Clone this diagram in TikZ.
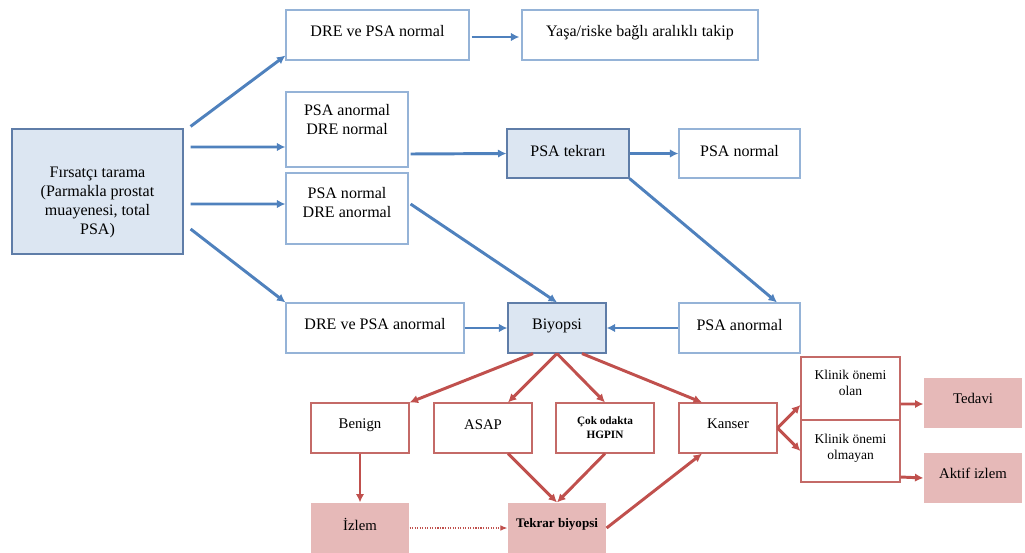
\documentclass[tikz,border=0pt]{standalone}
\usepackage{fontspec}
\setmainfont{Liberation Serif}
\usetikzlibrary{arrows.meta}
\definecolor{lineblue}{HTML}{4F81BD}
\definecolor{edgeblue}{HTML}{95B3D7}
\definecolor{fillblue}{HTML}{DCE6F2}
\definecolor{darkblue}{HTML}{5F7DA8}
\definecolor{linered}{HTML}{C0504D}
\definecolor{edgered}{HTML}{C46A67}
\definecolor{fillred}{HTML}{E6B9B8}
\tikzstyle{plain} = [rectangle, draw=edgeblue, line width=0.8pt, fill=white, align=center, inner sep=0pt, font=\fontsize{11.4}{13.5}\selectfont]
\tikzstyle{shaded} = [plain, draw=darkblue, fill=fillblue]
\tikzstyle{result} = [plain, draw=edgered, minimum width=2.45cm, minimum height=1.25cm, font=\fontsize{10.5}{12.5}\selectfont]
\tikzstyle{outcome} = [result, draw=none, fill=fillred]
\tikzstyle{arrow} = [line width=2.1pt, draw=lineblue, -{Latex[length=6pt,width=6pt]}]
\tikzstyle{redarrow} = [arrow, draw=linered, fill=linered]
\tikzstyle{dotarrow} = [line width=0.8pt, densely dotted, draw=linered, -{Latex[length=5pt,width=4pt]}]

\begin{document}
\begin{tikzpicture}[x=0.025cm, y=-0.025cm]
            \useasboundingbox (0,0) rectangle (1025,552);
            % screening
            \node [shaded, minimum width=4.275cm, minimum height=3.125cm, text height=63pt] at (97.5,191.5) (tarama) {F\i rsat\c{c}\i{} tarama\\(Parmakla prostat\\muayenesi, total\\PSA)};
            \node [plain, minimum width=4.575cm, minimum height=1.25cm, text depth=6pt] at (377.5,35) (ikinormal) {DRE ve PSA normal};
            \node [plain, minimum width=5.9cm, minimum height=1.25cm, text depth=5.5pt] at (640,35) (takip) {Ya\c{s}a/riske ba\u{g}l\i{} aral\i kl\i{} takip};
            \node [plain, minimum width=3.05cm, minimum height=1.875cm, text depth=14pt] at (347,129.5) (psaanormal) {PSA anormal\\DRE normal};
            \node [plain, minimum width=3.05cm, minimum height=1.775cm, text depth=8pt] at (347,208.5) (dreanormal) {PSA normal\\DRE anormal};
            \node [shaded, minimum width=3.05cm, minimum height=1.225cm, text depth=4.2pt] at (568,153.5) (tekrari) {PSA tekrar\i};
            \node [plain, minimum width=3.025cm, minimum height=1.225cm, text depth=4.2pt] at (739.5,153.5) (psanormal2) {PSA normal};
            \node [plain, minimum width=4.45cm, minimum height=1.25cm, text depth=6pt] at (375,328) (ikianormal) {DRE ve PSA anormal};
            \node [shaded, minimum width=2.45cm, minimum height=1.25cm, text depth=6pt] at (557,328) (biyopsi) {Biyopsi};
            \node [plain, minimum width=3.025cm, minimum height=1.25cm, text depth=5pt] at (739.5,328) (psaanormal2) {PSA anormal};

            % biopsy results
            \node [result, text depth=6.6pt] at (360,428) (benign) {Benign};
            \node [result, text depth=4.3pt] at (483,428) (asap) {ASAP};
            \node [result, font=\fontsize{8}{10}\selectfont\bfseries] at (605,428) (hgpin) {\c{C}ok odakta\\HGPIN};
            \node [result, text depth=5.7pt] at (728,428) (kanser) {Kanser};
            \node [result, minimum width=2.475cm, minimum height=1.575cm, text depth=8pt, font=\fontsize{9.6}{11.4}\selectfont] at (850.5,388.5) (olan) {Klinik \"{o}nemi\\olan};
            \node [result, minimum width=2.475cm, minimum height=1.55cm, text depth=5.3pt, font=\fontsize{9.6}{11.4}\selectfont] at (850.5,451) (olmayan) {Klinik \"{o}nemi\\olmayan};
            \node [outcome, text depth=6pt] at (973,403) (tedavi) {Tedavi};
            \node [outcome, text depth=6pt] at (973,478) (aktif) {Aktif izlem};
            \node [outcome, text depth=5.7pt] at (360,528) (izlem) {\.{I}zlem};
            \node [outcome, text depth=7pt, font=\fontsize{9.3}{11}\selectfont\bfseries] at (557,528) (tekrar) {Tekrar biyopsi};

            \draw [arrow] ([shift={(7,-2)}]tarama.north east) -- ([shift={(0,-5)}]ikinormal.south west);
            \draw [arrow] ([shift={(7,-44.5)}]tarama.east) -- ([shift={(0,17.5)}]psaanormal.west);
            \draw [arrow] ([shift={(7,12.5)}]tarama.east) -- ([shift={(0,-4.5)}]dreanormal.west);
            \draw [arrow] ([shift={(7,37.5)}]tarama.east) -- (ikianormal.north west);
            \draw [arrow] ([shift={(2,2)}]ikinormal.east) -- ([shift={(-2,2)}]takip.west);
            \draw [arrow] ([shift={(2,24.5)}]psaanormal.east) -- (tekrari.west);
            \draw [arrow] (tekrari.east) -- (psanormal2.west);
            \draw [arrow] (tekrari.south east) -- ([shift={(37.5,0)}]psaanormal2.north);
            \draw [arrow] ([shift={(2,-4.5)}]dreanormal.east) -- (biyopsi.north);
            \draw [arrow] (ikianormal.east) -- (biyopsi.west);
            \draw [arrow] (psaanormal2.west) -- (biyopsi.east);

            \draw [redarrow] ([shift={(-24,0)}]biyopsi.south) -- (benign.north east);
            \draw [redarrow] (biyopsi.south) -- ([shift={(25,0)}]asap.north);
            \draw [redarrow] (biyopsi.south) -- (hgpin.north);
            \draw [redarrow] ([shift={(25,0)}]biyopsi.south) -- ([shift={(-26,0)}]kanser.north);
            \draw [redarrow] ([shift={(25,0)}]asap.south) -- (tekrar.north);
            \draw [redarrow] (hgpin.south) -- (tekrar.north);
            \draw [redarrow] (benign.south) -- (izlem.north);
            \draw [redarrow] (tekrar.east) -- ([shift={(-26,0)}]kanser.south);
            \draw [dotarrow] (izlem.east) -- (tekrar.west);
            \draw [redarrow] (kanser.east) -- ([shift={(0,16.5)}]olan.west);
            \draw [redarrow] (kanser.east) -- (olmayan.west);
            \draw [redarrow] ([shift={(0,15.5)}]olan.east) -- ([shift={(0,1)}]tedavi.west);
            \draw [redarrow] ([shift={(0,26)}]olmayan.east) -- (aktif.west);
\end{tikzpicture}
\end{document}
